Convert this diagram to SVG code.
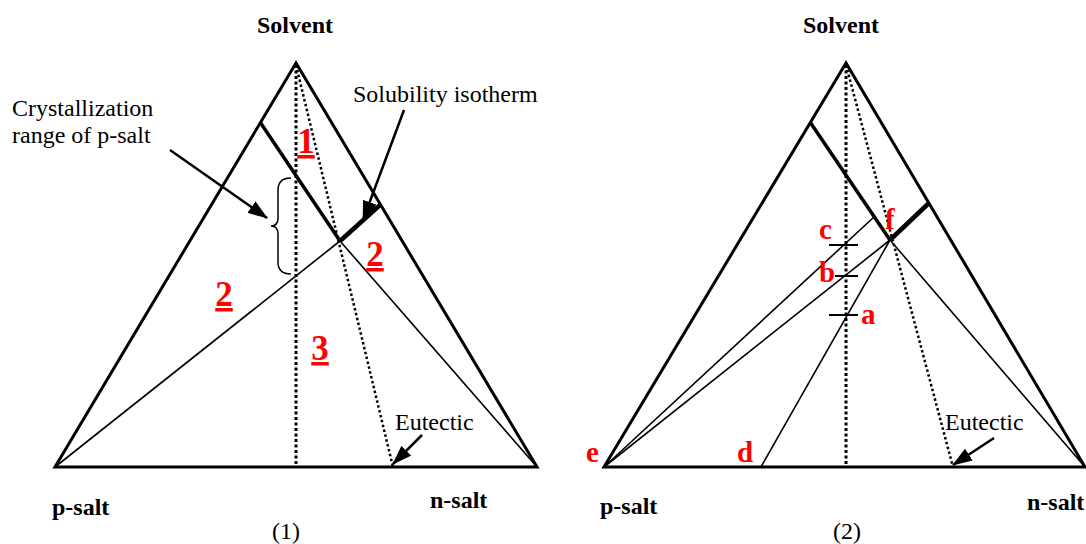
<svg xmlns="http://www.w3.org/2000/svg" width="1086" height="544" viewBox="0 0 1086 544">
<style>
.edge{fill:none;stroke:#000;stroke-width:3;stroke-linejoin:miter}
.thick{fill:none;stroke:#000;stroke-width:3.5}
.thicker{fill:none;stroke:#000;stroke-width:4.5}
.thin{fill:none;stroke:#000;stroke-width:1.6}
.dotv{fill:none;stroke:#000;stroke-width:3;stroke-dasharray:3 2.5}
.dots{fill:none;stroke:#000;stroke-width:2.5;stroke-dasharray:2.5 2.5}
.tick{fill:none;stroke:#000;stroke-width:2}
.arrow{fill:none;stroke:#000;stroke-width:2.5}
.brace{fill:none;stroke:#000;stroke-width:1.5}
.t{font-family:"Liberation Serif","Times New Roman",serif;font-size:24px;fill:#000}
.b{font-family:"Liberation Serif","Times New Roman",serif;font-size:24px;font-weight:bold;fill:#000}
.num{font-family:"Liberation Serif","Times New Roman",serif;font-size:35px;font-weight:bold;fill:#ff0000;text-decoration:underline}
.let{font-family:"Liberation Serif","Times New Roman",serif;font-size:29px;font-weight:bold;fill:#ff0000}
</style>
<defs>
<marker id="ah" markerUnits="userSpaceOnUse" markerWidth="20" markerHeight="14" refX="19" refY="7" orient="auto">
<path d="M0,0 L20,7 L0,14 z" fill="#000"/>
</marker>
</defs>

<g id="diagram1">
<g id="triangle1">
<polygon class="edge" points="296,63 55,467 537,467"/>
</g>
<g id="connectors1">
<line class="dotv" x1="296" y1="65" x2="296" y2="467"/>
<line class="dots" x1="296" y1="65" x2="393" y2="467"/>
<polyline class="thick" points="260,122 340,241"/>
<polyline class="thicker" points="340,241 380,205"/>
<line class="thin" x1="55" y1="467" x2="340" y2="241"/>
<line class="thin" x1="340" y1="241" x2="537" y2="467"/>
<path class="brace" d="M291,178 Q278,178 278,190 L278,218 Q278,226 271,226 Q278,226 278,234 L278,262 Q278,274 291,274"/>
<line class="arrow" x1="170" y1="150" x2="267" y2="218" marker-end="url(#ah)"/>
<line class="arrow" x1="404" y1="110" x2="363" y2="220" marker-end="url(#ah)"/>
<line class="arrow" x1="422" y1="435" x2="393" y2="464" marker-end="url(#ah)"/>
</g>
<g id="labels1">
<text class="b" x="257" y="33">Solvent</text>
<text class="t" x="12" y="116">Crystallization</text>
<text class="t" x="12" y="143">range of p-salt</text>
<text class="t" x="353" y="102">Solubility isotherm</text>
<text class="t" x="395" y="430">Eutectic</text>
<text class="b" x="52" y="515">p-salt</text>
<text class="b" x="430" y="508">n-salt</text>
<text class="t" x="272" y="539">(1)</text>
<text class="num" x="306" y="153" text-anchor="middle">1</text>
<text class="num" x="375" y="266" text-anchor="middle">2</text>
<text class="num" x="224" y="306" text-anchor="middle">2</text>
<text class="num" x="320" y="360" text-anchor="middle">3</text>
</g>
</g>

<g id="diagram2">
<g id="triangle2">
<polygon class="edge" points="846,63 604,467 1085,467"/>
</g>
<g id="connectors2">
<line class="dotv" x1="846" y1="65" x2="846" y2="467"/>
<line class="dots" x1="846" y1="65" x2="953" y2="467"/>
<polyline class="thick" points="810,122 890,240"/>
<polyline class="thicker" points="890,240 929,203"/>
<line class="thin" x1="604" y1="467" x2="874" y2="217"/>
<line class="thin" x1="604" y1="467" x2="890" y2="240"/>
<line class="thin" x1="761" y1="467" x2="890" y2="240"/>
<line class="thin" x1="890" y1="240" x2="1085" y2="467"/>
<line class="tick" x1="829" y1="245" x2="858" y2="245"/>
<line class="tick" x1="835" y1="276" x2="858" y2="276"/>
<line class="tick" x1="829" y1="315" x2="858" y2="315"/>
<line class="arrow" x1="994" y1="438" x2="953" y2="465" marker-end="url(#ah)"/>
</g>
<g id="labels2">
<text class="b" x="803" y="33">Solvent</text>
<text class="t" x="945" y="430">Eutectic</text>
<text class="b" x="600" y="514">p-salt</text>
<text class="b" x="1027" y="510">n-salt</text>
<text class="t" x="833" y="539">(2)</text>
<text class="let" x="819" y="239">c</text>
<text class="let" x="819" y="282">b</text>
<text class="let" x="861" y="324">a</text>
<text class="let" x="885" y="229">f</text>
<text class="let" x="586" y="462">e</text>
<text class="let" x="737" y="462">d</text>
</g>
</g>
</svg>
